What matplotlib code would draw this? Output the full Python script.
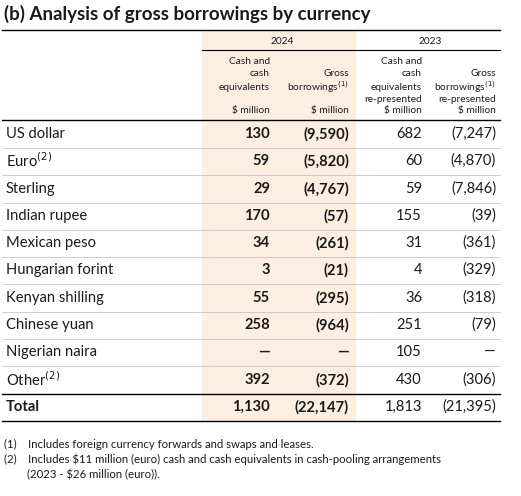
import matplotlib
matplotlib.use("Agg")
import matplotlib.pyplot as plt

plt.rcParams['font.family'] = ['Lato', 'DejaVu Sans']

categories = ["US dollar", "Euro$^{(2)}$", "Sterling", "Indian rupee", "Mexican peso",
              "Hungarian forint", "Kenyan shilling", "Chinese yuan", "Nigerian naira",
              "Other$^{(2)}$"]
cash_2024 = ["130", "59", "29", "170", "34", "3", "55", "258", "—", "392"]
gross_2024 = ["(9,590)", "(5,820)", "(4,767)", "(57)", "(261)", "(21)", "(295)", "(964)", "—", "(372)"]
cash_2023 = ["682", "60", "59", "155", "31", "4", "36", "251", "105", "430"]
gross_2023 = ["(7,247)", "(4,870)", "(7,846)", "(39)", "(361)", "(329)", "(318)", "(79)", "—", "(306)"]
total = ["1,130", "(22,147)", "1,813", "(21,395)"]
years = ["2024", "2023"]
headers = [["Cash and", "cash", "equivalents", "", "$ million"],
           ["", "Gross", "borrowings$^{(1)}$", "", "$ million"],
           ["Cash and", "cash", "equivalents", "re-presented", "$ million"],
           ["", "Gross", "borrowings$^{(1)}$", "re-presented", "$ million"]]
footnotes = ["(1)    Includes foreign currency forwards and swaps and leases.",
             "(2)    Includes \\$11 million (euro) cash and cash equivalents in cash-pooling arrangements",
             "        (2023 - \\$26 million (euro))."]

W, H = 521, 496
fig = plt.figure(figsize=(W/100, H/100), dpi=100)
ax = fig.add_axes([0, 0, 1, 1])
ax.set_xlim(0, W); ax.set_ylim(H, 0); ax.axis('off')

txt = '#1a1a1a'
ax.add_patch(plt.Rectangle((202, 30), 153, 391, color='#fdeee2', zorder=0))
ax.text(4, 14, "(b) Analysis of gross borrowings by currency", fontsize=13.5,
        fontweight='bold', va='center', color=txt)
ax.plot([2, 500], [30, 30], color='black', lw=1)
ax.text(282, 42, years[0], fontsize=7.3, ha='center', va='center', color=txt)
ax.text(430, 42, years[1], fontsize=7.3, ha='center', va='center', color=txt)
ax.plot([202, 500], [50, 50], color='black', lw=0.8)

colx = [270, 349, 422, 496]
hy = [62, 74, 87, 99, 111]
for j, hdr in enumerate(headers):
    for k, line in enumerate(hdr):
        if line:
            ax.text(colx[j], hy[k], line, fontsize=7.3, ha='right', va='center', color=txt)
ax.plot([2, 500], [120, 120], color='black', lw=1)

row_y = [134, 161, 189, 216, 243, 270, 298, 325, 352, 380]
step = 27.3
fs = 10.6
for i, cat in enumerate(categories):
    y = row_y[i]
    ax.text(6, y, cat, fontsize=fs, va='center', color=txt)
    ax.text(colx[0], y, cash_2024[i], fontsize=fs, fontweight='bold', ha='right', va='center', color=txt)
    ax.text(colx[1], y, gross_2024[i], fontsize=fs, fontweight='bold', ha='right', va='center', color=txt)
    ax.text(colx[2], y, cash_2023[i], fontsize=fs, ha='right', va='center', color=txt)
    ax.text(colx[3], y, gross_2023[i], fontsize=fs, ha='right', va='center', color=txt)
    if i < len(categories) - 1:
        ax.plot([2, 500], [y + step/2, y + step/2], color='#bbbbbb', lw=0.5)
ax.plot([2, 500], [394, 394], color='black', lw=1)
ax.text(6, 407, "Total", fontsize=fs, fontweight='bold', va='center', color=txt)
for j, v in enumerate(total):
    ax.text(colx[j], 407, v, fontsize=fs, fontweight='bold' if j < 2 else 'normal',
            ha='right', va='center', color=txt)
ax.plot([2, 500], [421, 421], color='black', lw=1)

for k, f in enumerate(footnotes):
    ax.text(4, 444 + k*15.5, f, fontsize=8.2, va='center', color=txt)

fig.savefig("out.png", dpi=100)
